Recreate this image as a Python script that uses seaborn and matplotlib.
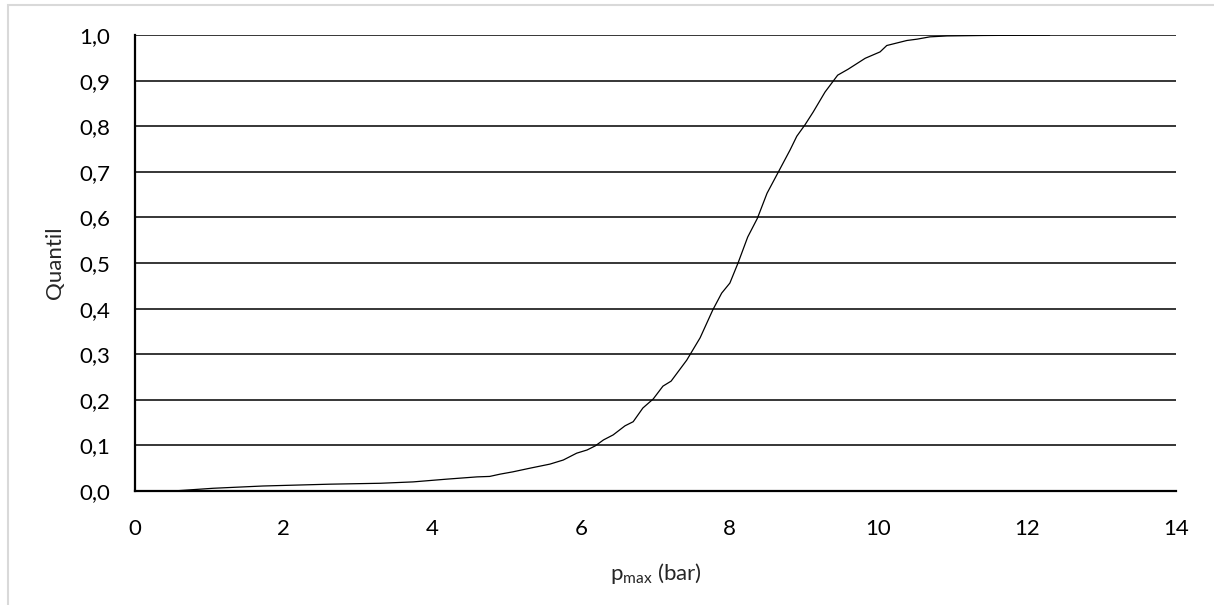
import matplotlib
matplotlib.use("Agg")
import matplotlib.pyplot as plt
import seaborn as sns
import pandas as pd
from matplotlib.patches import Rectangle

# Data
p_max = [0.51, 1.05, 1.72, 2.62, 3.30, 3.74, 4.19, 4.60, 4.77, 4.91, 5.08, 5.31,
         5.58, 5.76, 5.94, 6.08, 6.19, 6.30, 6.43, 6.59, 6.70, 6.83, 6.97, 7.10,
         7.21, 7.42, 7.60, 7.77, 7.89, 8.00, 8.11, 8.24, 8.37, 8.50, 8.66, 8.81,
         8.90, 9.01, 9.12, 9.28, 9.45, 9.59, 9.82, 10.02, 10.11, 10.38, 10.52,
         10.69, 10.92, 11.40, 12.30]
quantil = [0.000, 0.006, 0.011, 0.015, 0.017, 0.020, 0.026, 0.031, 0.032, 0.037,
           0.042, 0.050, 0.059, 0.068, 0.083, 0.090, 0.099, 0.112, 0.123, 0.143,
           0.152, 0.182, 0.202, 0.230, 0.241, 0.287, 0.336, 0.397, 0.434, 0.456,
           0.500, 0.557, 0.598, 0.653, 0.702, 0.748, 0.778, 0.803, 0.831, 0.875,
           0.912, 0.925, 0.949, 0.963, 0.977, 0.988, 0.991, 0.996, 0.998, 0.999,
           1.000]
x_ticks = [0, 2, 4, 6, 8, 10, 12, 14]
y_ticks = [0.0, 0.1, 0.2, 0.3, 0.4, 0.5, 0.6, 0.7, 0.8, 0.9, 1.0]
y_tick_labels = ["0,0", "0,1", "0,2", "0,3", "0,4", "0,5", "0,6", "0,7", "0,8", "0,9", "1,0"]

df = pd.DataFrame({"p_max": p_max, "Quantil": quantil})

sns.set_theme(style="white")
plt.rcParams["font.family"] = ["Lato", "DejaVu Sans"]

fig = plt.figure(figsize=(12.14, 6.05), dpi=100)
ax = fig.add_axes([0.1112, 0.1884, 0.8575, 0.7537])

# light grey frame around the chart area
fig.patches.append(Rectangle((8 / 1214, -0.05), 1.1, (605 - 5) / 605 + 0.05,
                             transform=fig.transFigure, fill=False,
                             edgecolor="#d9d9d9", linewidth=1.5))

for y in y_ticks[1:]:
    ax.axhline(y, color="black", linewidth=1.1, zorder=1)

sns.lineplot(data=df, x="p_max", y="Quantil", ax=ax, color="black",
             linewidth=0.9, estimator=None, sort=False, zorder=3)

ax.set_xlim(0, 14)
ax.set_ylim(0, 1.0)
ax.set_xticks(x_ticks)
ax.set_xticklabels([str(t) for t in x_ticks])
ax.set_yticks(y_ticks)
ax.set_yticklabels(y_tick_labels)
ax.tick_params(axis="both", length=0, labelsize=16, colors="black")
ax.tick_params(axis="x", pad=20)
ax.tick_params(axis="y", pad=18)

for side in ["top", "right"]:
    ax.spines[side].set_visible(False)
for side in ["left", "bottom"]:
    ax.spines[side].set_color("black")
    ax.spines[side].set_linewidth(1.6)

ax.set_xlabel("p$_{\\mathregular{max}}$ (bar)", fontsize=16, labelpad=16)
ax.set_ylabel("Quantil", fontsize=16, labelpad=10)

fig.savefig("out.png", dpi=100, facecolor="white")
